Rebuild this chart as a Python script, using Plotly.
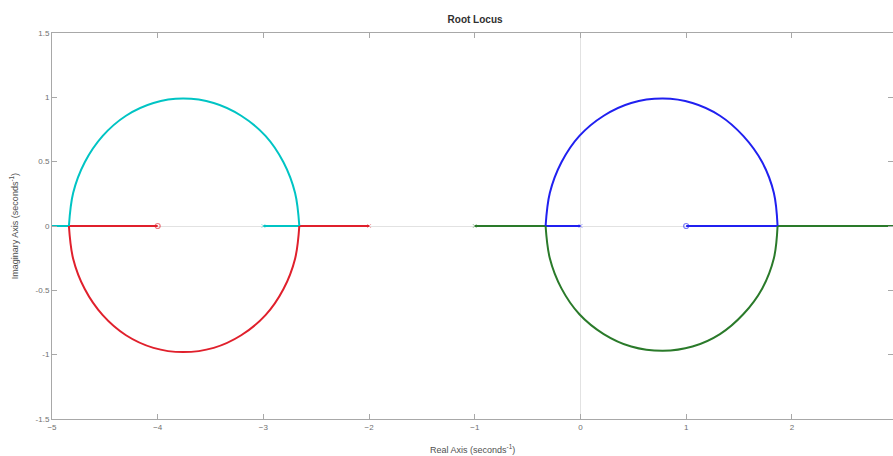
import plotly.graph_objects as go

# Root locus branches (real axis in seconds^-1, imaginary axis in seconds^-1)
# Left loop: upper arc (cyan branch) and lower arc (red branch)
left_upper_x = [-2.66, -2.70, -2.81, -2.98, -3.21, -3.47, -3.76, -4.04, -4.30, -4.52, -4.69, -4.80, -4.84]
left_upper_y = [0.0, 0.256, 0.495, 0.700, 0.857, 0.956, 0.99, 0.956, 0.857, 0.700, 0.495, 0.256, 0.0]
left_lower_x = [-2.66, -2.70, -2.81, -2.98, -3.21, -3.47, -3.76, -4.04, -4.30, -4.52, -4.69, -4.80, -4.84]
left_lower_y = [0.0, -0.254, -0.49, -0.693, -0.849, -0.947, -0.98, -0.947, -0.849, -0.693, -0.49, -0.254, 0.0]

# Right loop: upper arc (blue branch) and lower arc (green branch)
right_upper_x = [-0.33, -0.29, -0.18, -0.01, 0.22, 0.48, 0.78, 1.06, 1.32, 1.54, 1.72, 1.83, 1.865]
right_upper_y = [0.0, 0.256, 0.495, 0.700, 0.857, 0.956, 0.99, 0.956, 0.857, 0.700, 0.495, 0.256, 0.0]
right_lower_x = [-0.33, -0.29, -0.18, -0.01, 0.22, 0.48, 0.78, 1.06, 1.32, 1.54, 1.72, 1.83, 1.865]
right_lower_y = [0.0, -0.251, -0.485, -0.686, -0.84, -0.937, -0.97, -0.937, -0.84, -0.686, -0.485, -0.251, 0.0]

# Real-axis segments [start, end] per branch
cyan_segments = [[-3.0, -2.66], [-4.84, -5.3]]
red_segments = [[-2.0, -2.66], [-4.84, -4.0]]
green_segments = [[-1.0, -0.33], [1.865, 3.3]]
blue_segments = [[0.0, -0.33], [1.865, 1.0]]

# Open-loop poles and zeros
poles = [-3.0, -2.0, -1.0, 0.0]
pole_colors = ["#00c4c4", "#e0202c", "#2a7a2a", "#2020f0"]
zeros = [-4.0, 1.0]
zero_colors = ["#e0202c", "#2020f0"]

x_ticks = [-5, -4, -3, -2, -1, 0, 1, 2]
y_ticks = [-1.5, -1, -0.5, 0, 0.5, 1, 1.5]
y_tick_text = ["-1.5", "-1", "-0.5", "0", "0.5", "1", "1.5"]

CYAN, RED, GREEN, BLUE = "#00c4c4", "#e0202c", "#2a7a2a", "#2020f0"
LW = 2

fig = go.Figure()


def add_arc(xs, ys, color):
    fig.add_trace(go.Scatter(x=xs, y=ys, mode="lines",
                             line=dict(color=color, width=LW, shape="spline", smoothing=1.0),
                             showlegend=False, hoverinfo="skip"))


def add_segments(segs, color):
    for a, b in segs:
        fig.add_trace(go.Scatter(x=[a, b], y=[0, 0], mode="lines",
                                 line=dict(color=color, width=LW),
                                 showlegend=False, hoverinfo="skip"))


add_segments(cyan_segments, CYAN)
add_segments(red_segments, RED)
add_segments(green_segments, GREEN)
add_segments(blue_segments, BLUE)
add_arc(left_upper_x, left_upper_y, CYAN)
add_arc(left_lower_x, left_lower_y, RED)
add_arc(right_upper_x, right_upper_y, BLUE)
add_arc(right_lower_x, right_lower_y, GREEN)

fig.add_trace(go.Scatter(x=poles, y=[0] * len(poles), mode="markers",
                         marker=dict(symbol="x-thin", size=4, line=dict(width=1, color=pole_colors)),
                         showlegend=False, hoverinfo="skip", opacity=0.4))
fig.add_trace(go.Scatter(x=zeros, y=[0] * len(zeros), mode="markers",
                         marker=dict(symbol="circle-open", size=5, line=dict(width=1.2), color=zero_colors),
                         showlegend=False, hoverinfo="skip", opacity=0.6))

axis_common = dict(
    showgrid=False,
    showline=True, linecolor="#a8a8a8", linewidth=1,
    mirror="ticks",
    ticks="inside", ticklen=5, tickcolor="#a8a8a8",
    tickfont=dict(family="Liberation Sans", size=8, color="#707070"),
    zeroline=True, zerolinecolor="#e2e2e2", zerolinewidth=1,
)

fig.update_layout(
    width=893, height=456,
    margin=dict(l=52, r=0, t=33, b=37),
    paper_bgcolor="white", plot_bgcolor="white",
    xaxis=dict(range=[-5, 2.957], tickvals=x_ticks, **axis_common),
    yaxis=dict(range=[-1.5, 1.5], tickvals=y_ticks, ticktext=y_tick_text, **axis_common),
    title=dict(text="<b>Root Locus</b>", x=0.532, xanchor="center", y=0.957, yanchor="middle",
               font=dict(family="Liberation Sans", size=10, color="#303030")),
    annotations=[
        dict(text="Real Axis (seconds<sup>-1</sup>)", xref="paper", yref="paper",
             x=0.5, y=-0.078, xanchor="center", yanchor="middle", showarrow=False,
             font=dict(family="Liberation Sans", size=9, color="#505050")),
        dict(text="Imaginary Axis (seconds<sup>-1</sup>)", xref="paper", yref="paper",
             x=-0.045, y=0.5, xanchor="center", yanchor="middle", showarrow=False, textangle=-90,
             font=dict(family="Liberation Sans", size=9, color="#505050")),
    ],
)

fig.write_html("out.html")
